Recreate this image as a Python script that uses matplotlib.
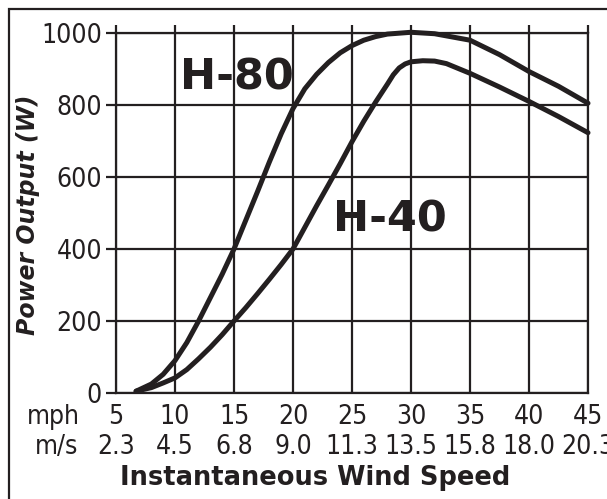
import matplotlib.pyplot as plt
from matplotlib.patches import Rectangle

# Datos
mph = [5, 10, 15, 20, 25, 30, 35, 40, 45]
ms = ["2.3", "4.5", "6.8", "9.0", "11.3", "13.5", "15.8", "18.0", "20.3"]
y_ticks = [0, 200, 400, 600, 800, 1000]

h80_speed = [6.7, 8, 9, 10, 11, 12, 13, 14, 15, 16, 17, 18, 19, 20, 21, 22,
             23, 24, 25, 26, 27, 28, 30, 32, 35, 37.5, 40, 42.5, 45]
h80_power = [5, 25, 52, 90, 140, 200, 265, 330, 400, 480, 560, 642, 720, 790, 845,
             885, 918, 945, 965, 980, 990, 997, 1002, 998, 980, 940, 893, 852, 805]

h40_speed = [6.7, 8, 9, 10, 11, 12, 13, 14, 15, 16, 17, 18, 19, 20, 21, 22, 23,
             24, 25, 26, 27, 28, 28.5, 29, 29.5, 30, 31, 32, 33, 35, 37.5, 40, 42.5, 45]
h40_power = [5, 15, 28, 42, 65, 95, 127, 162, 200, 237, 276, 316, 357, 400, 460,
             520, 578, 637, 698, 755, 808, 858, 884, 903, 914, 920, 923, 922, 915, 888,
             850, 810, 768, 723]

ink = "#231f20"
narrow = dict(family="DejaVu Sans", stretch="condensed", color=ink)

fig = plt.figure(figsize=(6.07, 4.99), dpi=100)
ax = fig.add_axes([116 / 607, 1 - 393 / 499, 472 / 607, 360 / 499])

# Curvas
for sp, pw in [(h80_speed, h80_power), (h40_speed, h40_power)]:
    ax.plot(sp, pw, color=ink, lw=3.6, solid_capstyle="round", solid_joinstyle="round",
            clip_on=False, zorder=3)

ax.set_xlim(5, 45)
ax.set_ylim(0, 1000)
ax.set_xticks(mph)
ax.set_yticks(y_ticks)
ax.grid(True, color=ink, lw=1.6)
for s in ax.spines.values():
    s.set_color(ink)
    s.set_linewidth(1.6)

ax.tick_params(axis="x", top=True, bottom=False, labelbottom=False,
               direction="out", length=6, width=1.6, color=ink)
ax.tick_params(axis="y", left=True, direction="out", length=7, width=1.6,
               color=ink, pad=3)
ax.set_yticklabels([str(v) for v in y_ticks], fontsize=19, **narrow)

# Etiquetas del eje x en dos filas
for m, s in zip(mph, ms):
    ax.annotate(str(m), xy=(m, 0), xycoords=("data", "axes fraction"),
                xytext=(0, -17.5), textcoords="offset points", ha="center", va="center",
                fontsize=19, annotation_clip=False, **narrow)
    ax.annotate(s, xy=(m, 0), xycoords=("data", "axes fraction"),
                xytext=(0, -39), textcoords="offset points", ha="center", va="center",
                fontsize=19, annotation_clip=False, **narrow)
fig.text(80 / 607, 1 - 417 / 499, "mph", ha="right", va="center", fontsize=19, **narrow)
fig.text(78 / 607, 1 - 447 / 499, "m/s", ha="right", va="center", fontsize=19, **narrow)

fig.text(315 / 607, 1 - 478 / 499, "Instantaneous Wind Speed", ha="center", va="center",
         fontsize=18.5, fontweight="bold", color=ink)
fig.text(28 / 607, 1 - 215 / 499, "Power Output (W)", ha="center", va="center", rotation=90,
         fontsize=17, fontweight="bold", style="italic", color=ink)

ax.text(15.25, 875, "H-80", ha="center", va="center", fontsize=31, fontweight="bold", color=ink)
ax.text(28.2, 483, "H-40", ha="center", va="center", fontsize=31, fontweight="bold", color=ink)

# Marco exterior
fig.patches.append(Rectangle((9 / 607, -0.1), 1.2, 1 - 9 / 499 + 0.1, transform=fig.transFigure,
                             fill=False, edgecolor=ink, lw=1.6))

plt.savefig("out.png", dpi=100)
